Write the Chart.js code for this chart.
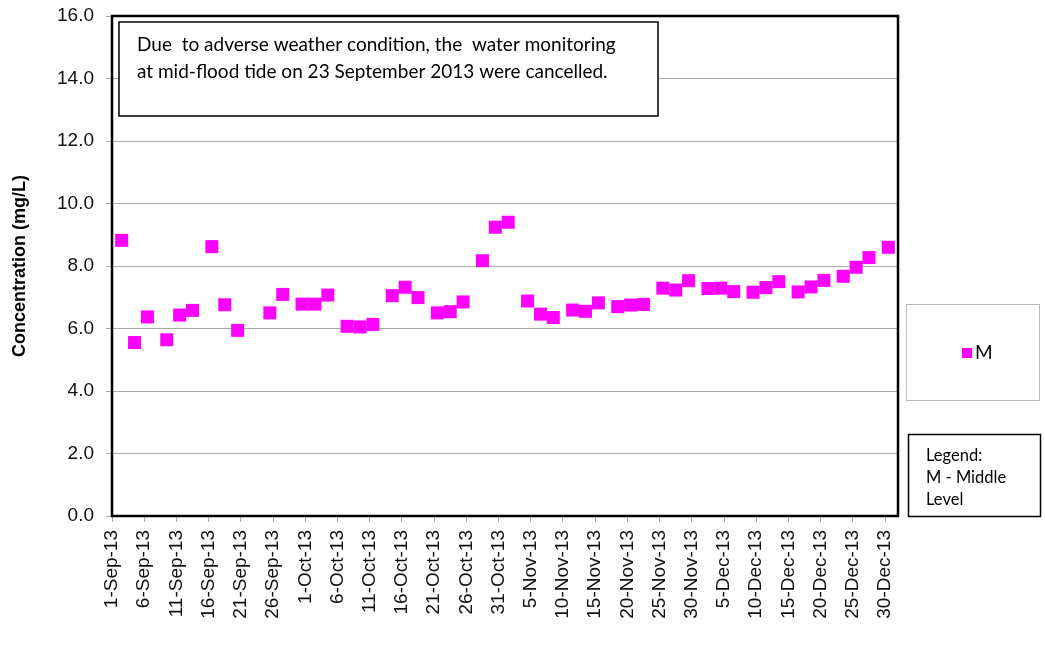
<!DOCTYPE html>
<html>
<head>
<meta charset="utf-8">
<script src="https://cdn.jsdelivr.net/npm/chart.js@4.4.1/dist/chart.umd.min.js"></script>
<style>
  body { margin: 0; background: #fff; }
  #wrap { width: 1045px; height: 648px; }
</style>
</head>
<body>
<div id="wrap"><canvas id="grafica" width="1045" height="648"></canvas></div>
<script>
// sampling dates (middle level)
var fechas = ['2013-09-02','2013-09-04','2013-09-06','2013-09-09','2013-09-11','2013-09-13',
  '2013-09-16','2013-09-18','2013-09-20','2013-09-25','2013-09-27','2013-09-30',
  '2013-10-02','2013-10-04','2013-10-07','2013-10-09','2013-10-11','2013-10-14',
  '2013-10-16','2013-10-18','2013-10-21','2013-10-23','2013-10-25','2013-10-28',
  '2013-10-30','2013-11-01','2013-11-04','2013-11-06','2013-11-08','2013-11-11',
  '2013-11-13','2013-11-15','2013-11-18','2013-11-20','2013-11-22','2013-11-25',
  '2013-11-27','2013-11-29','2013-12-02','2013-12-04','2013-12-06','2013-12-09',
  '2013-12-11','2013-12-13','2013-12-16','2013-12-18','2013-12-20','2013-12-23',
  '2013-12-25','2013-12-27','2013-12-30'];
var valoresM = [8.82,5.55,6.37,5.64,6.43,6.58,
  8.62,6.76,5.94,6.50,7.09,6.78,
  6.78,7.07,6.07,6.05,6.13,7.05,
  7.32,6.99,6.50,6.54,6.85,8.17,
  9.24,9.40,6.88,6.46,6.35,6.59,
  6.55,6.82,6.70,6.75,6.77,7.29,
  7.23,7.53,7.28,7.29,7.18,7.16,
  7.31,7.50,7.17,7.33,7.54,7.67,
  7.96,8.27,8.60];
var inicio = '2013-09-01';
var fin = '2014-01-01';
var yTicks = [0, 2, 4, 6, 8, 10, 12, 14, 16];
var meses = ['Jan','Feb','Mar','Apr','May','Jun','Jul','Aug','Sep','Oct','Nov','Dec'];
var nota = ['Due  to adverse weather condition, the  water monitoring',
            'at mid-flood tide on 23 September 2013 were cancelled.'];
var leyendaTexto = ['Legend:', 'M - Middle', 'Level'];

var DIA = 86400000;
var t0 = Date.parse(inicio);
function dias(s) { return (Date.parse(s) - t0) / DIA; }
function etiqueta(d) {
  var f = new Date(t0 + d * DIA);
  return f.getUTCDate() + '-' + meses[f.getUTCMonth()] + '-' + String(f.getUTCFullYear()).slice(2);
}

var puntos = fechas.map(function (f, i) { return { x: dias(f) + 0.5, y: valoresM[i] }; });

var fuente = '"Liberation Sans", Arial, sans-serif';
var fuenteNota = 'Lato, "Open Sans", sans-serif';

var cajas = {
  id: 'cajas',
  afterDraw: function (chart) {
    var ctx = chart.ctx, a = chart.chartArea;
    ctx.save();
    // plot border
    ctx.strokeStyle = '#000';
    ctx.lineWidth = 2.5;
    ctx.strokeRect(a.left, a.top, a.right - a.left, a.bottom - a.top);

    // note box
    ctx.fillStyle = '#fff';
    ctx.fillRect(119, 22, 539, 94);
    ctx.lineWidth = 1.5;
    ctx.strokeRect(119, 22, 539, 94);
    ctx.fillStyle = '#000';
    ctx.font = '19px ' + fuenteNota;
    ctx.textBaseline = 'middle';
    ctx.textAlign = 'left';
    ctx.fillText(nota[0], 137, 45, 492);
    ctx.fillText(nota[1], 137, 72, 478);

    // series legend box
    ctx.strokeStyle = '#bbb';
    ctx.lineWidth = 1;
    ctx.strokeRect(906.5, 304.5, 133, 96);
    ctx.fillStyle = chart.data.datasets[0].backgroundColor;
    ctx.fillRect(962, 348, 10, 10);
    ctx.fillStyle = '#000';
    ctx.font = '19px ' + fuenteNota;
    ctx.fillText(chart.data.datasets[0].label, 975, 353);

    // text legend box
    ctx.strokeStyle = '#000';
    ctx.lineWidth = 1.5;
    ctx.strokeRect(908.5, 434.5, 132, 82);
    ctx.font = '16.5px ' + fuenteNota;
    ctx.fillText(leyendaTexto[0], 926, 456);
    ctx.fillText(leyendaTexto[1], 926, 478);
    ctx.fillText(leyendaTexto[2], 926, 500);
    ctx.restore();
  }
};

new Chart(document.getElementById('grafica'), {
  type: 'scatter',
  data: {
    datasets: [{
      label: 'M',
      data: puntos,
      backgroundColor: '#FF00FF',
      borderWidth: 0,
      pointStyle: 'rect',
      pointRadius: 9.2,
      pointHoverRadius: 9.2
    }]
  },
  options: {
    responsive: false,
    animation: false,
    layout: { padding: { top: 16, right: 147, left: 0, bottom: 0 } },
    plugins: { legend: { display: false }, tooltip: { enabled: false } },
    scales: {
      x: {
        type: 'linear',
        min: 0,
        max: dias(fin),
        afterFit: function (s) { s.height = 132; },
        grid: { drawOnChartArea: false, drawTicks: true, tickLength: 6, color: '#aaa' },
        border: { display: false },
        ticks: {
          stepSize: 5,
          includeBounds: false,
          autoSkip: false,
          maxRotation: 90,
          minRotation: 90,
          padding: 8,
          color: '#111',
          font: { family: fuente, size: 19 },
          callback: function (v) { return etiqueta(v); }
        }
      },
      y: {
        min: 0,
        max: 16,
        afterFit: function (s) { s.width = 112; s.paddingTop = 0; s.paddingBottom = 0; },
        afterBuildTicks: function (s) { s.ticks = yTicks.map(function (v) { return { value: v }; }); },
        grid: { color: '#aaa', lineWidth: 1, tickLength: 6 },
        border: { display: false },
        ticks: {
          padding: 12,
          color: '#111',
          font: { family: fuente, size: 19 },
          callback: function (v) { return v.toFixed(1); }
        },
        title: {
          display: true,
          text: 'Concentration (mg/L)',
          color: '#000',
          font: { family: fuente, size: 18, weight: 'bold' },
          padding: { top: 9, bottom: 0 }
        }
      }
    }
  },
  plugins: [cajas]
});
</script>
</body>
</html>
